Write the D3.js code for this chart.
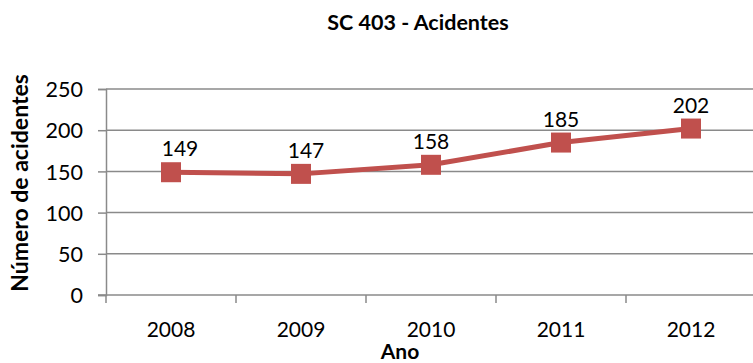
<!DOCTYPE html>
<html>
<head>
<meta charset="utf-8">
<script src="https://cdn.jsdelivr.net/npm/d3@7"></script>
<style>
  html, body { margin: 0; padding: 0; background: #fff; }
  svg { display: block; font-family: "Lato", "Open Sans", sans-serif; }
</style>
</head>
<body>
<svg id="chart" width="753" height="363"></svg>
<script>
// Accidents per year on highway SC 403
const years = ["2008", "2009", "2010", "2011", "2012"];
const accidents = [149, 147, 158, 185, 202];
const yTicks = [0, 50, 100, 150, 200, 250];

const svg = d3.select("#chart");
const plotLeft = 106, plotRight = 756, plotTop = 89, plotBottom = 295;

const x = d3.scalePoint().domain(years).range([plotLeft, plotRight]).padding(0.5);
const y = d3.scaleLinear().domain([0, 250]).range([plotBottom, plotTop]);

const gridColor = "#8a8a8a";

// horizontal gridlines
svg.append("g").selectAll("line").data(yTicks.filter(d => d > 0)).join("line")
  .attr("x1", plotLeft).attr("x2", plotRight)
  .attr("y1", d => y(d)).attr("y2", d => y(d))
  .attr("stroke", gridColor).attr("stroke-width", 1.5);

// y axis
const yAxis = svg.append("g").attr("transform", `translate(${plotLeft},0)`)
  .call(d3.axisLeft(y).tickValues(yTicks).tickSize(8).tickPadding(15));
yAxis.select(".domain").attr("stroke", gridColor).attr("stroke-width", 1.5);
yAxis.selectAll(".tick line").attr("stroke", gridColor).attr("stroke-width", 1.5);
yAxis.selectAll(".tick text").attr("font-size", 21.5).attr("fill", "#000")
  .attr("font-family", "Lato, sans-serif").attr("dy", "0.36em");

// x axis with ticks at category boundaries
const xAxis = svg.append("g").attr("transform", `translate(0,${plotBottom})`);
xAxis.append("line").attr("x1", plotLeft - 8).attr("x2", plotRight)
  .attr("stroke", gridColor).attr("stroke-width", 1.5);
const step = x.step();
const bounds = d3.range(years.length + 1).map(i => plotLeft + i * step);
xAxis.selectAll("line.tk").data(bounds).join("line").attr("class", "tk")
  .attr("x1", d => d).attr("x2", d => d).attr("y1", 0).attr("y2", 8)
  .attr("stroke", gridColor).attr("stroke-width", 1.5);
xAxis.selectAll("text").data(years).join("text")
  .attr("x", d => x(d)).attr("y", 42)
  .attr("text-anchor", "middle").attr("font-size", 21).text(d => d);

// series line
const color = "#C0504D";
const pts = years.map((yr, i) => ({ yr, v: accidents[i] }));
svg.append("path").datum(pts)
  .attr("fill", "none").attr("stroke", color).attr("stroke-width", 5)
  .attr("stroke-linejoin", "round")
  .attr("d", d3.line().x(d => x(d.yr)).y(d => y(d.v)));

// square markers
const m = 20;
svg.append("g").selectAll("rect").data(pts).join("rect")
  .attr("x", d => x(d.yr) - m / 2).attr("y", d => y(d.v) - m / 2)
  .attr("width", m).attr("height", m).attr("fill", color);

// value labels (the first two sit slightly right of their markers)
const labelShift = [9, 5, 0, 0, 0];
svg.append("g").selectAll("text").data(pts).join("text")
  .attr("x", (d, i) => x(d.yr) + labelShift[i]).attr("y", d => y(d.v) - 16)
  .attr("text-anchor", "middle").attr("font-size", 21).text(d => d.v);

// titles
svg.append("text").attr("x", 418).attr("y", 30).attr("text-anchor", "middle")
  .attr("font-size", 21.5).attr("font-weight", "bold").text("SC 403 - Acidentes");
svg.append("text").attr("x", 400).attr("y", 359).attr("text-anchor", "middle")
  .attr("font-size", 21).attr("font-weight", "bold").text("Ano");
svg.append("text").attr("transform", "translate(28,183) rotate(-90)")
  .attr("text-anchor", "middle").attr("font-size", 23).attr("font-weight", "bold")
  .text("Número de acidentes");
</script>
</body>
</html>
